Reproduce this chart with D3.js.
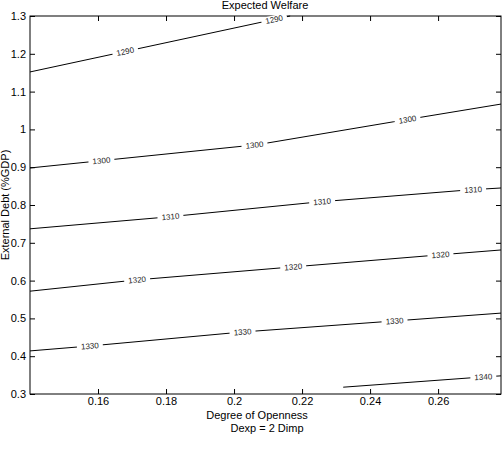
<!DOCTYPE html>
<html>
<head>
<meta charset="utf-8">
<script src="https://cdn.jsdelivr.net/npm/d3@7"></script>
<style>
  body { margin: 0; background: #fff; }
  svg text { font-family: "Liberation Sans", Arial, sans-serif; }
</style>
</head>
<body>
<div id="chart"></div>
<script>
// contour levels and their lines (x = openness, y = debt)
const levels = [1290, 1300, 1310, 1320, 1330, 1340];
const line1290 = [[0.14, 1.152], [0.2165, 1.3]];
const line1300 = [[0.14, 0.898], [0.2062, 0.959], [0.2098, 0.964], [0.2468, 1.020], [0.2785, 1.067]];
const line1310 = [[0.14, 0.737], [0.18, 0.768], [0.2247, 0.808], [0.2691, 0.840], [0.2785, 0.845]];
const line1320 = [[0.14, 0.572], [0.1715, 0.602], [0.217, 0.636], [0.2603, 0.668], [0.2785, 0.681]];
const line1330 = [[0.14, 0.414], [0.1576, 0.427], [0.2024, 0.464], [0.2468, 0.493], [0.2785, 0.514]];
const line1340 = [[0.2321, 0.318], [0.273, 0.345], [0.2785, 0.348]];
const contourLines = [line1290, line1300, line1310, line1320, line1330, line1340];
// x positions of the inline labels on each line
const labelX = [[0.168, 0.2118], [0.161, 0.206, 0.251], [0.1813, 0.2259, 0.2703], [0.1715, 0.2174, 0.2607], [0.1576, 0.2025, 0.2472], [0.2733]];

const xTicks = [0.16, 0.18, 0.2, 0.22, 0.24, 0.26];
const yTicks = [0.3, 0.4, 0.5, 0.6, 0.7, 0.8, 0.9, 1.0, 1.1, 1.2, 1.3];

const width = 503, height = 455;
const margin = { top: 16, right: 2, bottom: 61, left: 30 };

const svg = d3.select("#chart").append("svg")
    .attr("width", width)
    .attr("height", height);

const x = d3.scaleLinear()
    .domain([0.14, 0.2785])
    .range([margin.left, width - margin.right]);
const y = d3.scaleLinear()
    .domain([0.3, 1.3])
    .range([height - margin.bottom, margin.top]);

// frame
svg.append("rect")
    .attr("x", x(0.14)).attr("y", y(1.3))
    .attr("width", x(0.2785) - x(0.14))
    .attr("height", y(0.3) - y(1.3))
    .attr("fill", "none").attr("stroke", "#000").attr("stroke-width", 1);

// axes, ticks pointing inward like matlab
const fmt = d => String(+d.toFixed(2));
const styleAxis = g => {
    g.select(".domain").remove();
    g.selectAll("text").attr("fill", "#000").attr("font-size", 11)
        .attr("font-family", "Liberation Sans, Arial, sans-serif");
    g.selectAll("line").attr("stroke", "#000");
};
svg.append("g")
    .attr("transform", `translate(0,${y(0.3)})`)
    .call(d3.axisBottom(x).tickValues(xTicks).tickFormat(fmt).tickSizeInner(-5).tickPadding(3))
    .call(styleAxis);
svg.append("g")
    .attr("transform", `translate(0,${y(1.3)})`)
    .call(d3.axisTop(x).tickValues(xTicks).tickFormat("").tickSizeInner(-5))
    .call(styleAxis);
svg.append("g")
    .attr("transform", `translate(${x(0.14)},0)`)
    .call(d3.axisLeft(y).tickValues(yTicks).tickFormat(fmt).tickSizeInner(-5).tickPadding(4))
    .call(styleAxis);
svg.append("g")
    .attr("transform", `translate(${x(0.2785)},0)`)
    .call(d3.axisRight(y).tickValues(yTicks).tickFormat("").tickSizeInner(-5))
    .call(styleAxis);

// contour lines
const line = d3.line().x(d => x(d[0])).y(d => y(d[1]));
const plot = svg.append("g");
plot.selectAll(".contour")
    .data(contourLines)
    .enter()
    .append("path")
    .attr("class", "contour")
    .attr("d", line)
    .attr("fill", "none")
    .attr("stroke", "#000")
    .attr("stroke-width", 1);

// inline labels
function pointAt(pts, xv) {
    for (let i = 0; i < pts.length - 1; i++) {
        const a = pts[i], b = pts[i + 1];
        if (xv >= a[0] && xv <= b[0]) {
            const t = (xv - a[0]) / (b[0] - a[0]);
            const ang = Math.atan2(y(b[1]) - y(a[1]), x(b[0]) - x(a[0])) * 180 / Math.PI;
            return [x(xv), y(a[1] + t * (b[1] - a[1])), ang];
        }
    }
    return null;
}
levels.forEach((lev, i) => {
    labelX[i].forEach(xv => {
        const p = pointAt(contourLines[i], xv);
        if (!p) return;
        const g = plot.append("g")
            .attr("transform", `translate(${p[0]},${p[1]}) rotate(${p[2]})`);
        g.append("rect")
            .attr("x", -13).attr("y", -4).attr("width", 26).attr("height", 8)
            .attr("fill", "#fff");
        g.append("text")
            .attr("text-anchor", "middle")
            .attr("dy", "0.35em")
            .attr("font-size", 8)
            .attr("fill", "#222")
            .text(lev);
    });
});

// titles
svg.append("text")
    .attr("x", 265).attr("y", 9)
    .attr("text-anchor", "middle").attr("font-size", 11)
    .text("Expected Welfare");
svg.append("text")
    .attr("x", 257).attr("y", 419)
    .attr("text-anchor", "middle").attr("font-size", 11)
    .text("Degree of Openness");
svg.append("text")
    .attr("x", 267).attr("y", 432)
    .attr("text-anchor", "middle").attr("font-size", 11)
    .text("Dexp = 2 Dimp");
svg.append("text")
    .attr("transform", `translate(9,${y(0.8)}) rotate(-90)`)
    .attr("text-anchor", "middle").attr("font-size", 11)
    .text("External Debt (%GDP)");
</script>
</body>
</html>
